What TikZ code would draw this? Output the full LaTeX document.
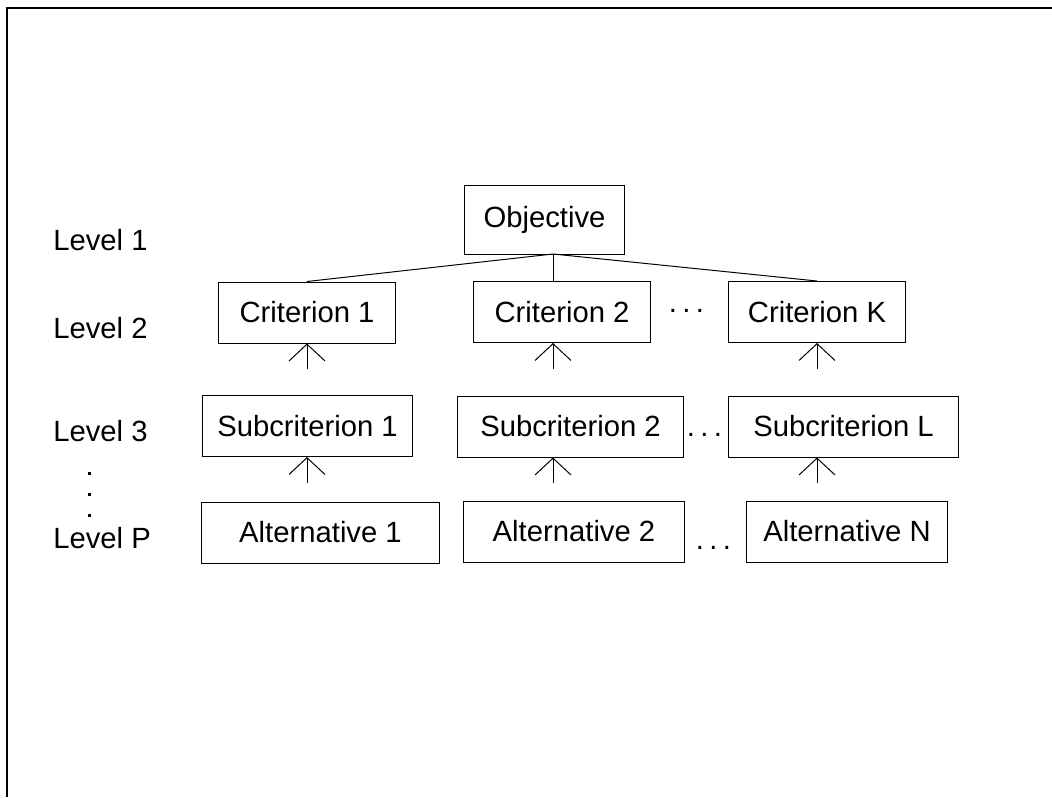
\documentclass[tikz,border=0pt]{standalone}
\usepackage{fontspec}
\setmainfont{Liberation Sans}
\usetikzlibrary{arrows.meta,positioning}
\newcommand{\spreaddots}{.\kern3.8pt.\kern3.8pt.}

\begin{document}
\begin{tikzpicture}[x=0.025cm, y=-0.025cm,
    font=\fontsize{20.8}{25}\selectfont,
    box/.style={draw, line width=0.7pt, minimum height=1.525cm, inner sep=0pt},
    lvl/.style={anchor=west, inner sep=0pt},
    dotrow/.style={inner sep=0pt},
    uparrow/.style={line width=0.7pt, -{Straight Barb[length=0.42cm, width=0.9cm]}}]
    \useasboundingbox (0,0) rectangle (1052,797);

    % Frame (top and left edge only)
    \draw[line width=1.5pt] (7,797) -- (7,8) -- (1052,8);

    % Level labels
    \node[lvl] (l1) at (53,240) {Level 1};
    \node[lvl] (l2) at (53,328) {Level 2};
    \node[lvl] (l3) at (53,431) {Level 3};
    \node[lvl] (lp) at (53,538) {Level P};
    \foreach \y in {473,494,515} {
        \fill (87.5,\y-1.5) rectangle +(3,3);
    }

    % Objective
    \node[box, minimum width=3.975cm, minimum height=1.725cm] (obj) at (544.5,219.5) {Objective};

    % Criteria
    \node[box, minimum width=4.4cm] (c1) at (307,312.5) {Criterion 1};
    \node[box, minimum width=4.4cm] (c2) at (562,312) {Criterion 2};
    \node[box, minimum width=4.4cm] (ck) at (817,312) {Criterion K};
    \node[dotrow] (cdots) at (686.5,311) {\spreaddots};

    % Subcriteria
    \node[box, minimum width=5.225cm] (s1) at (307.5,426) {Subcriterion 1};
    \node[box, minimum width=5.625cm] (s2) at (570.5,426.5) {Subcriterion 2};
    \node[box, minimum width=5.725cm] (sl) at (843.5,426.5) {Subcriterion L};
    \node[dotrow] (sdots) at (704.5,435) {\spreaddots};

    % Alternatives
    \node[box, minimum width=5.925cm] (a1) at (320.5,532.5) {Alternative 1};
    \node[box, minimum width=5.5cm] (a2) at (574,531.5) {Alternative 2};
    \node[box, minimum width=5cm] (an) at (847,531.5) {Alternative N};
    \node[dotrow] (adots) at (713.5,548) {\spreaddots};

    % Links from objective
    \coordinate (hub) at (553,254);
    \draw[line width=0.7pt] (hub) -- (c1.north);
    \draw[line width=0.7pt] (hub) -- (hub |- c2.north);
    \draw[line width=0.7pt] (hub) -- (ck.north);

    % Arrows up into criteria and subcriteria
    \coordinate (p1) at (307,369);
    \coordinate (p2) at (553,369);
    \coordinate (pk) at (817,369);
    \coordinate (q1) at (307,483);
    \coordinate (q2) at (553,483);
    \coordinate (ql) at (817,483);
    \draw[uparrow] (p1) -- (p1 |- c1.south);
    \draw[uparrow] (p2) -- (p2 |- c2.south);
    \draw[uparrow] (pk) -- (pk |- ck.south);
    \draw[uparrow] (q1) -- (q1 |- s1.south);
    \draw[uparrow] (q2) -- (q2 |- s2.south);
    \draw[uparrow] (ql) -- (ql |- sl.south);
\end{tikzpicture}
\end{document}
